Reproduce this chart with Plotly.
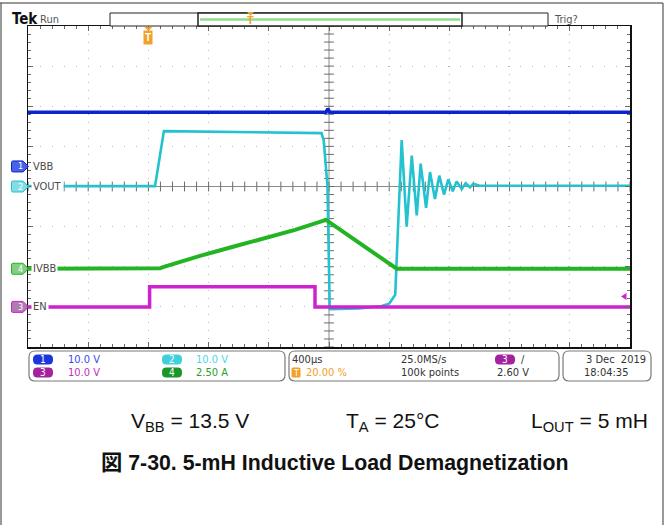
import numpy as np
import plotly.graph_objects as go

W, H = 666, 525

# ---------------- data ----------------
# time in microseconds relative to the trigger, values in physical units
vbb_time_us = [-800, 1180, 1192, 1205, 3200]
vbb_volts = [13.5, 13.5, 14.4, 13.5, 13.5]

vout_time_us = [-800, 44, 103, 1150, 1165, 1190, 1205, 1400, 1550, 1600, 1640, 1662,
                1683, 1716, 1750, 1783, 1809, 1845, 1871, 1904, 1933, 1964, 1993,
                2022, 2048, 2082, 2108, 2137, 2159, 2200, 3200]
vout_volts = [0.1, 0.1, 13.8, 13.3, 11.5, 0.0, -30.6, -30.4, -29.8, -29.2, -27.0, -5.0,
              11.6, -10.0, 7.7, -7.2, 5.7, -5.3, 3.6, -3.1, 2.7, -2.0, 1.75,
              -1.2, 1.25, -0.6, 0.8, -0.2, 0.7, 0.2, 0.2]

en_time_us = [-800, 8, 8, 1090, 1107, 1107, 3200]
en_volts = [0.0, 0.0, 5.0, 5.1, 5.0, 0.0, 0.0]

ivbb_time_us = [-800, 20, 77, 97, 163, 343, 562, 741, 974, 1180, 1360, 1650, 3200]
ivbb_amps = [0.0, 0.0, 0.03, 0.1, 0.3, 0.8, 1.37, 1.83, 2.42, 3.04, 1.85, 0.0, 0.0]

channel_labels = ["VBB", "VOUT", "EN", "IVBB"]
channel_numbers = ["1", "2", "3", "4"]
channel_scales = [10.0, 10.0, 10.0, 2.5]          # units per division
channel_scale_texts = ["10.0 V", "10.0 V", "10.0 V", "2.50 A"]
time_per_div_us = 400
trigger_pos_pct = 20.0
trigger_level_v = 2.60
timebase_text = "400µs"
sample_rate_text = "25.0MS/s"
trigger_pos_text = "20.00 %"
record_text = "100k points"
trigger_level_text = "2.60 V"
date_text = "3 Dec\u00a0\u00a02019"
clock_text = "18:04:35"
caption_texts = ["V<sub>BB</sub> = 13.5 V", "T<sub>A</sub> = 25°C", "L<sub>OUT</sub> = 5 mH"]
title_text = "図 7-30. 5-mH Inductive Load Demagnetization"

# ---------------- styles / layout ----------------
ch_offsets = [0.5, 0.0, -3.0, -2.05]               # ground position in divisions
ch_colors = ["#0c24cf", "#22c2ce", "#cf22cf", "#22b422"]
ch_widths = [3.5, 2.6, 3.5, 4.0]
tag_fill = ["rgba(40,70,230,0.85)", "rgba(90,210,220,0.75)", "rgba(150,80,150,0.75)", "rgba(90,190,90,0.75)"]
badge_fill = ["#1a36dc", "#3ed0dc", "#a4229e", "#1a962a"]
text_colors = ["#3c48f5", "#4ad8e8", "#c030c0", "#2a9e2a"]
ORANGE = "#f2a029"
NARROW = "Liberation Sans Narrow, Arial Narrow, DejaVu Sans Condensed, sans-serif"
SANS = "Liberation Sans, Arial, Noto Sans CJK JP, sans-serif"

GX0, GX1, GY0, GY1 = 28, 630, 26, 347


def px(x):
    return x / W


def py(y):
    return 1 - y / H


t_min = -trigger_pos_pct / 100 * 10 * time_per_div_us
t_max = t_min + 10 * time_per_div_us
t_center = (t_min + t_max) / 2

fig = go.Figure()

# graticule centre ticks
minor_x = np.arange(t_min, t_max + 1, time_per_div_us / 5)
minor_y = np.arange(-4, 4.001, 0.2)
fig.add_trace(go.Scatter(x=minor_x, y=np.zeros_like(minor_x), mode="markers",
                         marker=dict(symbol="line-ns", size=7, line=dict(width=1, color="#6a6a6a")),
                         hoverinfo="skip", showlegend=False))
fig.add_trace(go.Scatter(x=np.full_like(minor_y, t_center), y=minor_y, mode="markers",
                         marker=dict(symbol="line-ew", size=7, line=dict(width=1, color="#6a6a6a")),
                         hoverinfo="skip", showlegend=False))

series = [(vbb_time_us, vbb_volts), (vout_time_us, vout_volts), (en_time_us, en_volts), (ivbb_time_us, ivbb_amps)]
for i, (t, v) in enumerate(series):
    fig.add_trace(go.Scatter(x=t, y=np.array(v) / channel_scales[i] + ch_offsets[i], mode="lines",
                             line=dict(color=ch_colors[i], width=ch_widths[i]),
                             hoverinfo="skip", showlegend=False))

shapes = []
annotations = []


def ann(text, x, y, color="#333", size=11, xanchor="left", family=NARROW, bg=None, pad=0, xref="paper", yref="paper"):
    d = dict(text=text, x=x, y=y, xref=xref, yref=yref, xanchor=xanchor, yanchor="middle",
             showarrow=False, font=dict(family=family, size=size, color=color), borderpad=pad)
    if bg:
        d["bgcolor"] = bg
    annotations.append(d)


def rrect(x0, y0, x1, y1, r):
    # rounded rectangle in pixel coords -> paper path
    pts = [
        f"M {px(x0 + r):.5f},{py(y0):.5f}", f"L {px(x1 - r):.5f},{py(y0):.5f}",
        f"Q {px(x1):.5f},{py(y0):.5f} {px(x1):.5f},{py(y0 + r):.5f}",
        f"L {px(x1):.5f},{py(y1 - r):.5f}", f"Q {px(x1):.5f},{py(y1):.5f} {px(x1 - r):.5f},{py(y1):.5f}",
        f"L {px(x0 + r):.5f},{py(y1):.5f}", f"Q {px(x0):.5f},{py(y1):.5f} {px(x0):.5f},{py(y1 - r):.5f}",
        f"L {px(x0):.5f},{py(y0 + r):.5f}", f"Q {px(x0):.5f},{py(y0):.5f} {px(x0 + r):.5f},{py(y0):.5f}", "Z"]
    return " ".join(pts)


# outer frame of the figure image
shapes.append(dict(type="line", xref="paper", yref="paper", x0=0, x1=px(663), y0=py(3), y1=py(3),
                   line=dict(color="#333", width=1.2)))
shapes.append(dict(type="line", xref="paper", yref="paper", x0=px(1), x1=px(1), y0=py(3), y1=0,
                   line=dict(color="#555", width=1.2)))
shapes.append(dict(type="line", xref="paper", yref="paper", x0=px(663), x1=px(663), y0=py(3), y1=0,
                   line=dict(color="#555", width=1.2)))

# centre lines
shapes.append(dict(type="line", xref="x", yref="paper", x0=t_center, x1=t_center, y0=py(GY1), y1=py(GY0),
                   line=dict(color="#8a8a8a", width=1), layer="below"))
shapes.append(dict(type="line", xref="paper", yref="y", x0=px(GX0), x1=px(GX1), y0=0, y1=0,
                   line=dict(color="#8a8a8a", width=1), layer="below"))

# channel tags on the left and their labels
tag_path = "M -15,-5.5 L -5,-5.5 L 0.5,0 L -5,5.5 L -15,5.5 Q -16.5,5.5 -16.5,4 L -16.5,-4 Q -16.5,-5.5 -15,-5.5 Z"
for i in range(4):
    shapes.append(dict(type="path", xref="paper", yref="y", xsizemode="pixel", ysizemode="pixel",
                       xanchor=px(GX0), yanchor=ch_offsets[i], path=tag_path,
                       fillcolor=tag_fill[i], line=dict(color=ch_colors[i], width=1)))
    ann(channel_numbers[i], px(GX0 - 8), ch_offsets[i], color="white", size=9, xanchor="center", yref="y")
    ann(channel_labels[i], px(GX0 + 3), ch_offsets[i], color="#4a4a4a", size=11, bg="white", pad=1, yref="y")

# trigger level marker on right edge
shapes.append(dict(type="path", xref="paper", yref="y", xsizemode="pixel", ysizemode="pixel",
                   xanchor=px(GX1), yanchor=ch_offsets[2] + trigger_level_v / channel_scales[2],
                   path="M -9,0 L -3.5,3.5 L -3.5,-3.5 Z", fillcolor=ch_colors[2], line=dict(width=0)))

# trigger position marker at top of graticule
shapes.append(dict(type="path", xref="x", yref="paper", xsizemode="pixel", ysizemode="pixel",
                   xanchor=0, yanchor=py(GY0), path="M -4,-1 L 4,-1 L 0,-5 Z",
                   fillcolor=ORANGE, line=dict(width=0)))
ann("<b>T</b>", 0, py(37.5), color="white", size=10, xanchor="center", family=SANS, bg=ORANGE, pad=1, xref="x")

# header: Tek Run, record view, Trig?
ann("<b>Tek</b>", px(11), py(19), color="#111", size=15, family=NARROW)
ann("Run", px(39), py(20), color="#555", size=11)
ann("Trig?", px(553), py(20), color="#555", size=11)
shapes.append(dict(type="rect", xref="paper", yref="paper", x0=px(110), x1=px(548), y0=py(26), y1=py(13),
                   line=dict(color="#222", width=1), fillcolor="white"))
shapes.append(dict(type="rect", xref="paper", yref="paper", x0=px(198), x1=px(462), y0=py(26), y1=py(13),
                   line=dict(color="#222", width=1.5), fillcolor="white"))
shapes.append(dict(type="line", xref="paper", yref="paper", x0=px(200), x1=px(460), y0=py(19.5), y1=py(19.5),
                   line=dict(color="#8fdc8f", width=2.5)))
shapes.append(dict(type="path", xref="paper", yref="paper", xsizemode="pixel", ysizemode="pixel",
                   xanchor=px(250.5), yanchor=py(13), path="M -3.5,1 L 3.5,1 L 0,-3 Z",
                   fillcolor=ORANGE, line=dict(width=0)))
ann("<b>T</b>", px(250.5), py(19.5), color=ORANGE, size=11, xanchor="center", family=SANS)

# bottom information boxes
for (x0, x1) in [(29, 285), (289, 559), (563, 651)]:
    shapes.append(dict(type="path", xref="paper", yref="paper", path=rrect(x0, 351, x1, 381, 6),
                       line=dict(color="#7a7a7a", width=1.2), fillcolor="white"))

ROW1, ROW2 = 359.5, 372.5


def badge(cx, cy, num, fill, w=20, h=10):
    shapes.append(dict(type="path", xref="paper", yref="paper",
                       path=rrect(cx - w / 2, cy - h / 2, cx + w / 2, cy + h / 2, h / 2 - 0.5),
                       line=dict(width=0), fillcolor=fill))
    ann(num, px(cx), py(cy), color="white", size=10, xanchor="center")


badge(43, ROW1, channel_numbers[0], badge_fill[0])
ann(channel_scale_texts[0], px(67), py(ROW1), color=text_colors[0])
badge(172, ROW1, channel_numbers[1], badge_fill[1])
ann(channel_scale_texts[1], px(195), py(ROW1), color=text_colors[1])
badge(43, ROW2, channel_numbers[2], badge_fill[2])
ann(channel_scale_texts[2], px(67), py(ROW2), color=text_colors[2])
badge(172, ROW2, channel_numbers[3], badge_fill[3])
ann(channel_scale_texts[3], px(195), py(ROW2), color=text_colors[3])

ann(timebase_text, px(291), py(ROW1), color="#333")
ann(sample_rate_text, px(400), py(ROW1), color="#333")
badge(505, ROW1, channel_numbers[2], badge_fill[2])
ann("/", px(520), py(ROW1), color="#333")
shapes.append(dict(type="path", xref="paper", yref="paper", path=rrect(291.5, ROW2 - 5, 300.5, ROW2 + 5, 1.5),
                   line=dict(width=0), fillcolor=ORANGE))
ann("T", px(296), py(ROW2), color="white", size=9, xanchor="center")
ann(trigger_pos_text, px(305), py(ROW2), color=ORANGE)
ann(record_text, px(400), py(ROW2), color="#333")
ann(trigger_level_text, px(496), py(ROW2), color="#333")
ann(date_text, px(647), py(ROW1), color="#333", xanchor="right")
ann(clock_text, px(583), py(ROW2), color="#333")

# caption and title
for txt, x in zip(caption_texts, [130, 345, 530]):
    ann(txt, px(x), py(422), color="#111", size=21, family=SANS)
ann("<b>" + title_text + "</b>", px(100), py(463), color="#111", size=21.3, family=SANS)

axis_common = dict(showticklabels=False, showline=True, linecolor="#111", linewidth=1.5, mirror="ticks",
                   zeroline=False, ticks="inside", ticklen=5, tickcolor="#6a6a6a", fixedrange=True,
                   showgrid=True, gridcolor="#b8b8b8", gridwidth=1)

fig.update_layout(
    width=W, height=H, margin=dict(l=0, r=0, t=0, b=0),
    paper_bgcolor="white", plot_bgcolor="white", showlegend=False,
    xaxis=dict(domain=[px(GX0), px(GX1)], range=[t_min, t_max], dtick=time_per_div_us, tick0=t_min,
               griddash="1px,7px",
               minor=dict(ticks="inside", ticklen=3, dtick=time_per_div_us / 5, tick0=t_min,
                          tickcolor="#6a6a6a", showgrid=False),
               **axis_common),
    yaxis=dict(domain=[py(GY1), py(GY0)], range=[-4, 4], dtick=1, tick0=-4,
               griddash="1px,11px",
               minor=dict(ticks="inside", ticklen=3, dtick=0.2, tick0=-4, tickcolor="#6a6a6a", showgrid=False),
               **axis_common),
    shapes=shapes, annotations=annotations,
)

fig.write_html("out.html", config={"displayModeBar": False, "staticPlot": True},
               post_script="document.body.style.margin='0';document.body.style.overflow='hidden';")
